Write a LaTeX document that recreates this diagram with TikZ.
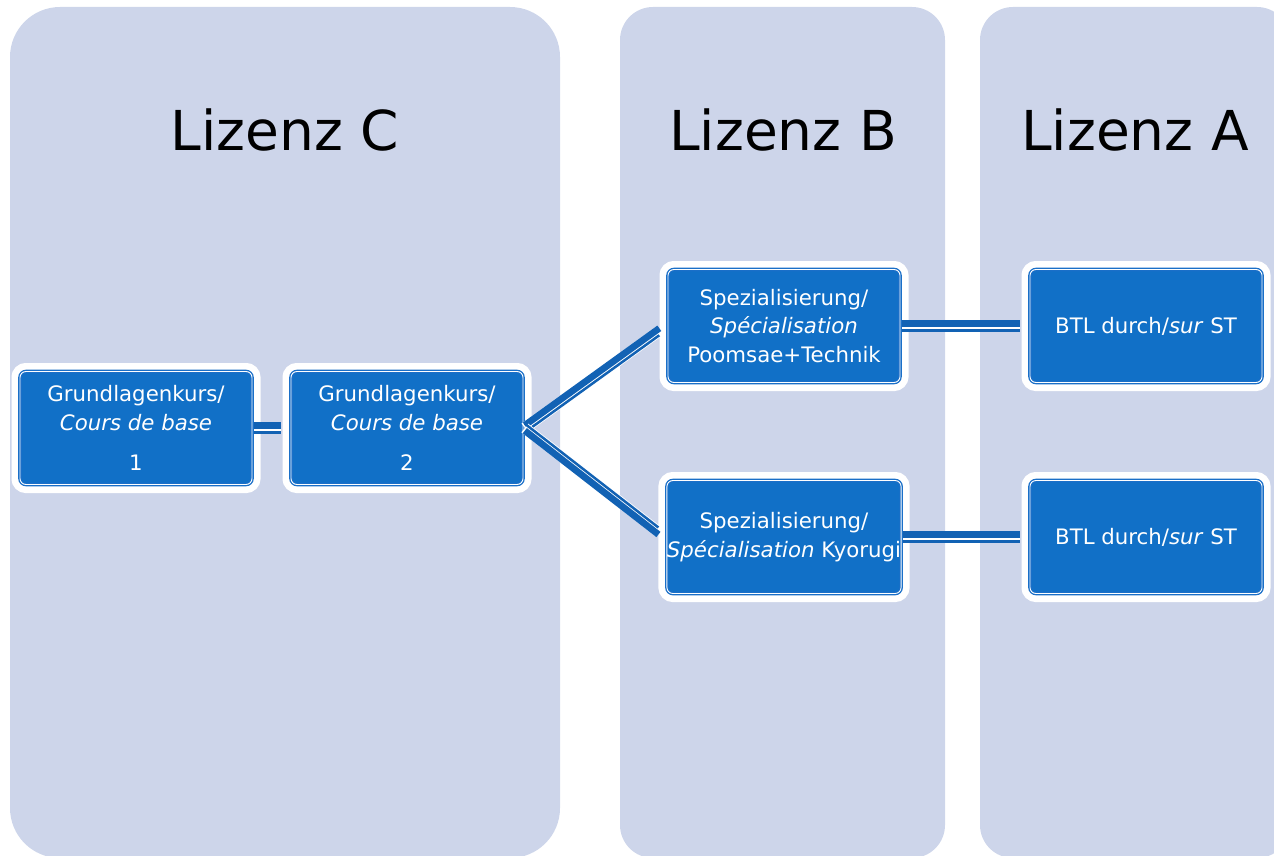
\documentclass[tikz,border=0pt]{standalone}
\usepackage{fontspec}
\setmainfont{DejaVu Sans}
\usepackage{tikz}
\usepackage{xcolor}

\definecolor{panelfill}{HTML}{CDD5EA}
\definecolor{boxblue}{HTML}{1170C7}
\definecolor{edgeblue}{HTML}{1A6FC8}
\definecolor{linkblue}{HTML}{1262B4}

\begin{document}
\begin{tikzpicture}[x=1pt,y=1pt,yscale=-1,xscale=1,
  panel/.style={fill=panelfill, draw=none},
  lizenz/.style={anchor=base, font=\fontsize{55}{60}\selectfont},
  kurs/.style={rectangle, rounded corners=6pt, minimum width=232pt, minimum height=113pt,
    inner sep=0pt, fill=boxblue, draw=edgeblue, line width=3.6pt,
    preaction={draw=white, line width=17pt},
    postaction={draw=white, line width=0.9pt},
    text=white, align=center, font=\fontsize{21.3}{28.5}\selectfont},
  linkgap/.style={draw=white, line width=11pt, shorten >=8.5pt},
  linkthick/.style={draw=linkblue, line width=6.7pt, shorten >=8.5pt},
  linkthin/.style={draw=linkblue, line width=2.5pt, shorten >=8.5pt}]
\useasboundingbox (0,0) rectangle (1274,856);

%Shape: Panel C
\draw[panel, rounded corners=50pt] (10,7) rectangle (560,858);
%Shape: Panel B
\draw[panel, rounded corners=33pt] (620,7) rectangle (945,858);
%Shape: Panel A
\draw[panel, rounded corners=33pt] (980,7) rectangle (1290,858);

% Text Node
\node[lizenz] (lizC) at (285,150) {Lizenz C};
% Text Node
\node[lizenz] (lizB) at (783,150) {Lizenz B};
% Text Node
\node[lizenz] (lizA) at (1135,150) {Lizenz A};

% Boxes
\node[kurs] (gk1) at (136,428) {Grundlagenkurs/\\\textit{Cours de base}\\[12pt]1};
\node[kurs] (gk2) at (407,428) {Grundlagenkurs/\\\textit{Cours de base}\\[12pt]2};
\node[kurs] (spec1) at (784,326) {Spezialisierung/\\\textit{Spécialisation}\\Poomsae+Technik};
\node[kurs] (spec2) at (784,537) {Spezialisierung/\\\textit{Spécialisation} Kyorugi};
\node[kurs] (btl1) at (1146,326) {BTL durch/\textit{sur} ST};
\node[kurs] (btl2) at (1146,537) {BTL durch/\textit{sur} ST};

%Straight Lines gk1 -- gk2
\draw[linkgap] (gk1.east) -- (gk2.west);
\draw[linkthick] ([yshift=-2.7pt]gk1.east) -- ([yshift=-2.7pt]gk2.west);
\draw[linkthin] ([yshift=4.3pt]gk1.east) -- ([yshift=4.3pt]gk2.west);
%Straight Lines gk2 -- spec1
\draw[linkgap] (gk2.east) -- (spec1.west);
\draw[linkthick] ([yshift=-2.7pt]gk2.east) -- ([yshift=-2.7pt]spec1.west);
\draw[linkthin] ([yshift=4.3pt]gk2.east) -- ([yshift=4.3pt]spec1.west);
%Straight Lines gk2 -- spec2
\draw[linkgap] (gk2.east) -- (spec2.west);
\draw[linkthick] ([yshift=2.7pt]gk2.east) -- ([yshift=2.7pt]spec2.west);
\draw[linkthin] ([yshift=-4.3pt]gk2.east) -- ([yshift=-4.3pt]spec2.west);
%Straight Lines spec1 -- btl1
\draw[linkgap] (spec1.east) -- (btl1.west);
\draw[linkthick] ([yshift=-2.7pt]spec1.east) -- ([yshift=-2.7pt]btl1.west);
\draw[linkthin] ([yshift=4.3pt]spec1.east) -- ([yshift=4.3pt]btl1.west);
%Straight Lines spec2 -- btl2
\draw[linkgap] (spec2.east) -- (btl2.west);
\draw[linkthick] ([yshift=-2.7pt]spec2.east) -- ([yshift=-2.7pt]btl2.west);
\draw[linkthin] ([yshift=4.3pt]spec2.east) -- ([yshift=4.3pt]btl2.west);

\end{tikzpicture}
\end{document}
